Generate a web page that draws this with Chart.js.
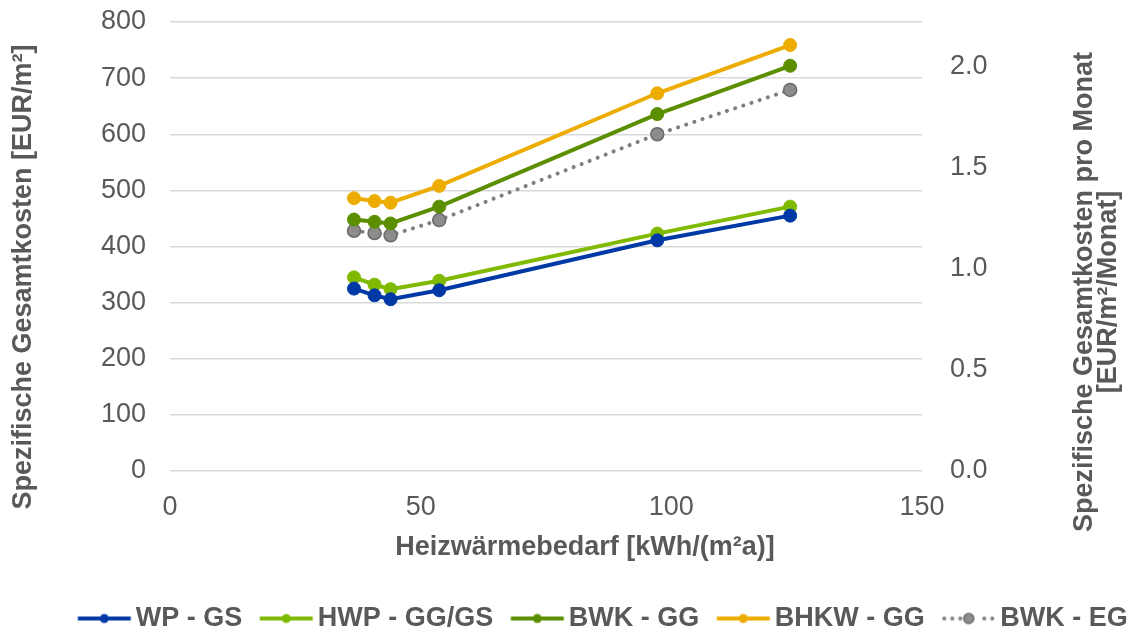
<!DOCTYPE html>
<html>
<head>
<meta charset="utf-8">
<script src="https://cdn.jsdelivr.net/npm/chart.js@4"></script>
<style>
  body { margin: 0; background: #fff; }
  #chart { display: block; }
</style>
</head>
<body>
<canvas id="chart" width="1140" height="633"></canvas>
<script>
// Heizwärmebedarf (x) and spezifische Gesamtkosten (y) per system
const heatDemand = [36.7, 40.8, 44.0, 53.7, 97.2, 123.7];
const wpGs = [325, 313, 306, 322, 411, 455];
const hwpGgGs = [345, 332, 324, 339, 423, 471];
const bwkGg = [448, 444, 441, 471, 636, 722];
const bhkwGg = [486, 481, 478, 508, 673, 759];
const bwkEg = [428, 424, 420, 447, 600, 679];

const seriesNames = ['WP - GS', 'HWP - GG/GS', 'BWK - GG', 'BHKW - GG', 'BWK - EG'];
const seriesColors = ['#0039a6', '#7fba00', '#5b8f00', '#ecac00', '#7f7f7f'];

const leftTitle = 'Spezifische Gesamtkosten [EUR/m²]';
const rightTitle = ['Spezifische Gesamtkosten pro Monat', '[EUR/m²/Monat]'];
const xTitle = 'Heizwärmebedarf [kWh/(m²a)]';
const monthsPerPeriod = 360; // 800 EUR/m² total -> 2.22 EUR/m²/Monat

const textColor = '#595959';
const fontFamily = '"Liberation Sans", Arial, sans-serif';

function toPoints(values) {
    return values.map((v, i) => ({ x: heatDemand[i], y: v }));
}

// legend marker: line with a dot, drawn into a small canvas
function makeMarker(color, dotted) {
    const c = document.createElement('canvas');
    c.width = 70;
    c.height = 16;
    const g = c.getContext('2d');
    const x0 = 15.5, x1 = 68.5, y = 8;
    g.strokeStyle = color;
    g.lineWidth = 4;
    if (dotted) {
        g.fillStyle = color;
        for (let x = x0 + 2; x < x1; x += 8) {
            if (Math.abs(x - (x0 + x1) / 2) < 8) continue;
            g.beginPath();
            g.arc(x, y, 2, 0, Math.PI * 2);
            g.fill();
        }
        g.beginPath();
        g.arc((x0 + x1) / 2, y, 5, 0, Math.PI * 2);
        g.fillStyle = '#8c8c8c';
        g.fill();
        g.lineWidth = 1.5;
        g.strokeStyle = '#6a6a6a';
        g.stroke();
    } else {
        g.beginPath();
        g.moveTo(x0, y);
        g.lineTo(x1, y);
        g.stroke();
        g.beginPath();
        g.arc((x0 + x1) / 2, y, 4.5, 0, Math.PI * 2);
        g.fillStyle = color;
        g.fill();
    }
    return c;
}

const allValues = [wpGs, hwpGgGs, bwkGg, bhkwGg, bwkEg];

const datasets = allValues.map((vals, i) => {
    const dotted = i === 4;
    return {
        label: seriesNames[i],
        data: toPoints(vals),
        borderColor: seriesColors[i],
        backgroundColor: dotted ? '#8c8c8c' : seriesColors[i],
        pointBackgroundColor: dotted ? '#8c8c8c' : seriesColors[i],
        pointBorderColor: dotted ? '#6a6a6a' : seriesColors[i],
        pointBorderWidth: dotted ? 1.5 : 1,
        pointRadius: 6.5,
        borderWidth: 4,
        borderDash: dotted ? [0.1, 8.5] : [],
        borderCapStyle: dotted ? 'round' : 'butt',
        showLine: true,
        tension: 0,
        yAxisID: 'y'
    };
});

// empty dataset so the right axis gets drawn
datasets.push({
    label: '_right',
    data: [],
    yAxisID: 'y2'
});

const markers = seriesColors.map((c, i) => makeMarker(c, i === 4));

const axisTitles = {
    id: 'axisTitles',
    afterDraw(chart) {
        const ctx = chart.ctx;
        const area = chart.chartArea;
        ctx.save();
        ctx.fillStyle = textColor;
        ctx.font = 'bold 27px ' + fontFamily;
        ctx.textAlign = 'center';
        ctx.textBaseline = 'middle';

        ctx.fillText(xTitle, 585, area.bottom + 77);

        ctx.save();
        ctx.translate(24, 277);
        ctx.rotate(-Math.PI / 2);
        ctx.fillText(leftTitle, 0, 0);
        ctx.restore();

        ctx.save();
        ctx.translate(1085, 292);
        ctx.rotate(-Math.PI / 2);
        ctx.fillText(rightTitle[0], 0, 0);
        ctx.fillText(rightTitle[1], 0, 24);
        ctx.restore();
        ctx.restore();
    }
};

// tick padding would otherwise push the plot area down
function noVerticalPadding(scale) {
    scale.paddingTop = 0;
    scale.paddingBottom = 0;
}

new Chart(document.getElementById('chart'), {
    type: 'scatter',
    data: { datasets },
    options: {
        responsive: false,
        animation: false,
        devicePixelRatio: 1,
        layout: { padding: { top: 22, left: 60, right: 0, bottom: -9 } },
        scales: {
            x: {
                type: 'linear',
                min: 0,
                max: 150,
                ticks: {
                    stepSize: 50,
                    color: textColor,
                    font: { family: fontFamily, size: 27 },
                    padding: 20
                },
                grid: { display: false, drawTicks: false },
                border: { display: false },
                afterFit(scale) { scale.height = 122; }
            },
            y: {
                position: 'left',
                min: 0,
                max: 800,
                ticks: {
                    stepSize: 100,
                    color: textColor,
                    font: { family: fontFamily, size: 27 },
                    padding: 24
                },
                grid: { color: '#d9d9d9', lineWidth: 1.5, drawTicks: false },
                border: { display: false },
                afterFit(scale) { scale.width = 110; noVerticalPadding(scale); }
            },
            y2: {
                position: 'right',
                min: 0,
                max: 800 / monthsPerPeriod,
                ticks: {
                    stepSize: 0.5,
                    includeBounds: false,
                    color: textColor,
                    font: { family: fontFamily, size: 27 },
                    padding: 28,
                    callback: v => v.toFixed(1)
                },
                grid: { display: false, drawTicks: false },
                border: { display: false },
                afterFit(scale) { scale.width = 218; noVerticalPadding(scale); }
            }
        },
        plugins: {
            tooltip: { enabled: false },
            legend: {
                position: 'bottom',
                labels: {
                    usePointStyle: true,
                    pointStyleWidth: 50,
                    padding: 12,
                    color: textColor,
                    font: { family: fontFamily, size: 27, weight: 'bold' },
                    filter: item => item.text !== '_right',
                    generateLabels(chart) {
                        const items = Chart.defaults.plugins.legend.labels.generateLabels(chart);
                        items.forEach(item => {
                            if (item.datasetIndex < markers.length) {
                                item.pointStyle = markers[item.datasetIndex];
                                item.rotation = 0;
                            }
                        });
                        return items;
                    }
                }
            }
        }
    },
    plugins: [axisTitles]
});
</script>
</body>
</html>
